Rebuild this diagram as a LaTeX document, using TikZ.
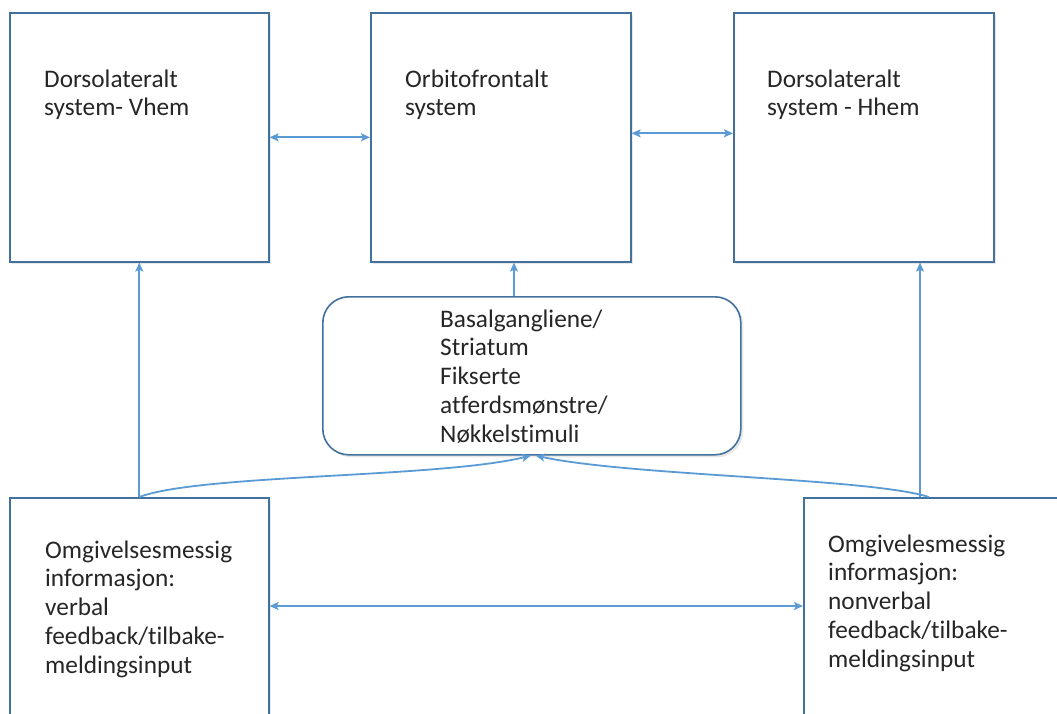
\documentclass[tikz,border=0pt]{standalone}
\usepackage{fontspec}
\setmainfont{Carlito}[Ligatures={NoCommon}]
\usetikzlibrary{arrows.meta,shadows}
\definecolor{boxline}{HTML}{41719C}
\definecolor{link}{HTML}{5B9BD5}
\tikzset{
  box/.style={draw=boxline, line width=1.6pt, fill=white, rectangle,
    drop shadow={opacity=0.18, shadow xshift=2.5pt, shadow yshift=-2.5pt},
    inner sep=0pt, anchor=north west},
  roundbox/.style={box, rounded corners=26pt},
  txt/.style={anchor=base west, inner sep=0pt, align=left,
    font=\fontsize{25.3}{28.8}\selectfont, text=black!85},
  link/.style={draw=link, line width=1.8pt},
  tip/.style={-{Stealth[length=9pt,width=8pt,inset=2pt]}},
  tips/.style={{Stealth[length=9pt,width=8pt,inset=2pt]}-{Stealth[length=9pt,width=8pt,inset=2pt]}}
}
\begin{document}
\begin{tikzpicture}[x=1pt,y=-1pt]
\useasboundingbox (0,0) rectangle (1057,713);
\clip (0,0) rectangle (1057,713);
\fill[white] (0,0) rectangle (1057,713);

% boxes
\node[box, minimum width=259pt, minimum height=249pt] (tl) at (9,12) {};
\node[box, minimum width=260pt, minimum height=249pt] (om) at (370,12) {};
\node[box, minimum width=260pt, minimum height=249pt] (tr) at (733,12) {};
\node[roundbox, minimum width=418pt, minimum height=158pt] (bg) at (322,296) {};
\node[box, minimum width=259pt, minimum height=240pt] (bl) at (9,497) {};
\node[box, minimum width=260pt, minimum height=240pt] (br) at (803,497) {};

% labels (anchored at the baseline of their last line)
\node[txt] (tlt) at (44,115.8) {Dorsolateralt\\system- Vhem};
\node[txt] (omt) at (405,115.8) {Orbitofrontalt\\system};
\node[txt] (trt) at (767,115.8) {Dorsolateralt\\system - Hhem};
\node[txt] (bgt) at (440,442.2) {Basalgangliene/\\Striatum\\Fikserte\\atferdsmønstre/\\Nøkkelstimuli};
\node[txt] (blt) at (45,673.2) {Omgivelsesmessig\\informasjon:\\verbal\\feedback/tilbake-\\meldingsinput};
\node[txt] (brt) at (828,667.2) {Omgivelesmessig\\informasjon:\\nonverbal\\feedback/tilbake-\\meldingsinput};

% connectors
\draw[link,tips] (tl.east) -- (om.west);
\draw[link,tips] ([yshift=4pt]om.east) -- ([yshift=4pt]tr.west);
\draw[link,tip] (bl.north) -- (tl.south);
\draw[link,tip] (514,0 |- bg.north) -- (514,0 |- om.south);
\draw[link,tip] (920,0 |- br.north) -- (920,0 |- tr.south);
\draw[link,tips] ([yshift=-109pt]bl.north east) -- ([yshift=-109pt]br.north west);
\draw[link,tip] (bl.north) .. controls (200,474) and (440,478) .. ([xshift=-1pt]bg.south);
\draw[link,tip] ([xshift=-5pt]br.north) .. controls (870,478) and (630,476) .. ([xshift=4pt]bg.south);
\end{tikzpicture}
\end{document}
